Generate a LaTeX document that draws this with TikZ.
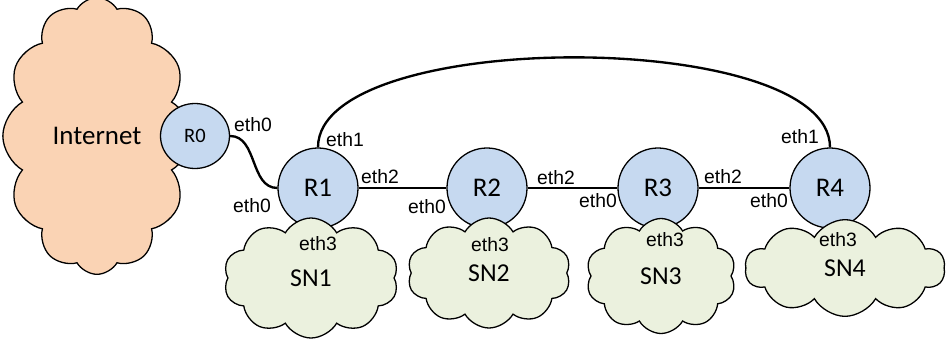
\documentclass[tikz,border=0pt]{standalone}
\usepackage{fontspec}
\setmainfont{Carlito}
\newfontfamily\ethfont{Liberation Sans}
\usepackage{xcolor}
\usepackage{tikz}
\usetikzlibrary{shapes.geometric,shapes.symbols}
\definecolor{routerblue}{RGB}{198,217,240}
\definecolor{inetpeach}{RGB}{250,211,180}
\definecolor{subnetgreen}{RGB}{235,241,222}
\tikzset{link/.style = {line width=2pt}}
\tikzset{port/.style = {font=\ethfont\fontsize{16.5}{18}\selectfont, inner sep=0pt}}

\begin{document}
\begin{tikzpicture}[x=0.3mm,y=-0.3mm,
    router/.style={circle,draw,fill=routerblue,line width=1.1pt,minimum size=24mm,inner sep=0pt,font=\fontsize{23}{26}\selectfont},
    subnet/.style={cloud,cloud puffs=10,cloud puff arc=120,cloud ignores aspect,draw,fill=subnetgreen,line width=1.1pt,inner sep=0pt,font=\fontsize{22}{25}\selectfont}]
    \useasboundingbox (0,0) rectangle (946,339);

    % internet side
    \node[cloud, cloud puffs=12, cloud puff arc=120, cloud ignores aspect, draw, fill=inetpeach, line width=1.1pt,
          minimum width=56.5mm, minimum height=83mm, inner sep=0pt, font=\fontsize{23}{26}\selectfont] (inet) at (97,136) {Internet};
    \node[router, ellipse, minimum width=20.7mm, minimum height=19.5mm, font=\fontsize{17.5}{20}\selectfont] (R0) at (195,136) {R0};

    % routers
    \node[router] (R1) at (318,188) {R1};
    \node[router] (R2) at (487,188) {R2};
    \node[router] (R3) at (658,188) {R3};
    \node[router] (R4) at (830,188) {R4};

    % subnets
    \node[subnet, minimum width=52.5mm, minimum height=36mm] (SN1) at (311,278) {SN1};
    \node[subnet, minimum width=49mm, minimum height=33mm] (SN2) at (489,273) {SN2};
    \node[subnet, minimum width=45mm, minimum height=34.5mm] (SN3) at (661,276) {SN3};
    \node[subnet, minimum width=60mm, minimum height=29mm] (SN4) at (845,268) {SN4};

    \path[link]
        (R0.east) edge [out=0, in=180] (R1.west)
        (R1) edge (R2)
        (R2) edge (R3)
        (R3) edge (R4)
        ;
    \draw[link] (R1.north) .. controls +(0,-120) and +(0,-120) .. (R4.north);

    % interface names
    \node[port] (r0e0) at (253,125) {eth0};
    \node[port] (r1e0) at (252,206) {eth0};
    \node[port] (r1e1) at (345,140) {eth1};
    \node[port] (r1e2) at (380,177) {eth2};
    \node[port] (r1e3) at (318,244) {eth3};
    \node[port] (r2e0) at (427,207) {eth0};
    \node[port] (r2e2) at (556,178) {eth2};
    \node[port] (r2e3) at (490,245) {eth3};
    \node[port] (r3e0) at (598,201) {eth0};
    \node[port] (r3e2) at (723,177) {eth2};
    \node[port] (r3e3) at (665,240) {eth3};
    \node[port] (r4e0) at (769,201) {eth0};
    \node[port] (r4e1) at (800,137) {eth1};
    \node[port] (r4e3) at (838,240) {eth3};
\end{tikzpicture}
\end{document}
